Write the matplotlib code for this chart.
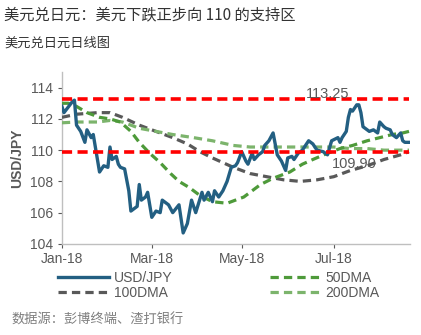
import numpy as np
import matplotlib
import matplotlib.pyplot as plt

matplotlib.use('Agg')

plt.rcParams['font.family'] = ['Liberation Sans', 'Noto Sans CJK SC', 'DejaVu Sans']

# daily USD/JPY close (turning points)
usdjpy_dates = [
    '2018-01-01', '2018-01-02', '2018-01-08', '2018-01-09', '2018-01-10', '2018-01-12',
    '2018-01-16', '2018-01-17', '2018-01-19', '2018-01-22', '2018-01-23', '2018-01-24',
    '2018-01-25', '2018-01-29', '2018-01-31', '2018-02-01', '2018-02-02', '2018-02-06',
    '2018-02-07', '2018-02-08', '2018-02-12', '2018-02-14', '2018-02-15', '2018-02-20',
    '2018-02-21', '2018-02-22', '2018-02-26', '2018-02-27', '2018-03-01', '2018-03-05',
    '2018-03-07', '2018-03-08', '2018-03-13', '2018-03-15', '2018-03-20', '2018-03-22',
    '2018-03-26', '2018-03-28', '2018-03-30', '2018-04-04', '2018-04-05', '2018-04-09',
    '2018-04-11', '2018-04-12', '2018-04-16', '2018-04-18', '2018-04-20', '2018-04-24',
    '2018-04-26', '2018-04-27', '2018-05-01', '2018-05-03', '2018-05-04', '2018-05-08',
    '2018-05-09', '2018-05-11', '2018-05-15', '2018-05-16', '2018-05-18', '2018-05-22',
    '2018-05-24', '2018-05-28', '2018-05-30', '2018-05-31', '2018-06-04', '2018-06-05',
    '2018-06-07', '2018-06-11', '2018-06-14', '2018-06-18', '2018-06-20', '2018-06-25',
    '2018-06-27', '2018-06-29', '2018-07-04', '2018-07-05', '2018-07-06', '2018-07-10',
    '2018-07-11', '2018-07-12', '2018-07-13', '2018-07-17', '2018-07-18', '2018-07-19',
    '2018-07-20', '2018-07-24', '2018-07-25', '2018-07-27', '2018-07-31', '2018-08-01',
    '2018-08-03', '2018-08-06', '2018-08-08', '2018-08-09', '2018-08-13', '2018-08-15',
    '2018-08-16', '2018-08-17', '2018-08-21',
]
usdjpy = [
    112.8, 112.4, 113.1, 113.2, 111.6, 111.2,
    110.5, 111.3, 110.8, 111.0, 110.2, 109.4,
    108.6, 109.0, 108.9, 110.2, 109.4, 109.6,
    109.1, 108.9, 108.8, 107.4, 106.1, 106.4,
    107.8, 106.8, 107.0, 107.3, 105.7, 106.1,
    106.0, 106.8, 106.5, 106.0, 106.5, 104.7,
    105.3, 106.8, 106.0, 107.3, 106.8, 107.3,
    106.7, 107.4, 107.0, 107.4, 108.0, 108.9,
    109.0, 109.2, 109.9, 109.3, 109.1, 109.8,
    109.4, 109.7, 109.9, 110.3, 110.6, 111.1,
    109.7, 109.3, 108.7, 109.5, 109.6, 109.4,
    109.8, 110.0, 110.6, 110.4, 110.0, 109.9,
    109.7, 110.6, 110.8, 110.5, 110.8, 111.2,
    112.1, 112.6, 112.5, 112.9, 112.9, 112.4,
    111.5, 111.3, 111.2, 111.3, 111.1, 111.8,
    111.5, 111.4, 111.3, 111.0, 110.8, 111.1,
    110.6, 110.5, 110.5,
]

dma50_dates = [
    '2018-01-01', '2018-01-04', '2018-01-10', '2018-01-17', '2018-01-25', '2018-02-01',
    '2018-02-08', '2018-02-15', '2018-02-21', '2018-02-28', '2018-03-07', '2018-03-14',
    '2018-03-20', '2018-03-27', '2018-04-03', '2018-04-11', '2018-04-20', '2018-05-02',
    '2018-05-14', '2018-05-22', '2018-06-01', '2018-06-11', '2018-06-18', '2018-06-27',
    '2018-07-05', '2018-07-13', '2018-07-24', '2018-08-01', '2018-08-09', '2018-08-16',
    '2018-08-21',
]
dma50 = [
    113.0, 113.0, 112.8, 112.4, 112.1, 112.0,
    111.8, 111.2, 110.5, 109.8, 109.2, 108.5,
    108.0, 107.6, 107.1, 106.7, 106.6, 107.0,
    107.8, 108.2, 108.6, 109.1, 109.4, 109.8,
    110.1, 110.3, 110.6, 110.8, 111.0, 111.1,
    111.2,
]

dma100_dates = [
    '2018-01-01', '2018-01-10', '2018-01-24', '2018-02-01', '2018-02-09', '2018-02-21',
    '2018-03-05', '2018-03-15', '2018-03-26', '2018-04-03', '2018-04-11', '2018-04-25',
    '2018-05-07', '2018-05-17', '2018-05-29', '2018-06-08', '2018-06-20', '2018-07-02',
    '2018-07-12', '2018-07-24', '2018-08-03', '2018-08-15', '2018-08-21',
]
dma100 = [
    112.1, 112.3, 112.4, 112.4, 112.1, 111.6,
    111.2, 110.8, 110.4, 109.9, 109.5, 108.9,
    108.5, 108.3, 108.1, 108.0, 108.1, 108.3,
    108.7, 109.0, 109.4, 109.7, 109.9,
]

dma200_dates = [
    '2018-01-01', '2018-01-10', '2018-01-24', '2018-02-01', '2018-02-09', '2018-02-21',
    '2018-03-05', '2018-03-15', '2018-03-29', '2018-04-11', '2018-04-25', '2018-05-07',
    '2018-05-17', '2018-06-08', '2018-07-02', '2018-07-12', '2018-07-24', '2018-08-03',
    '2018-08-21',
]
dma200 = [
    111.75, 111.8, 111.8, 111.9, 111.8, 111.4,
    111.2, 111.0, 110.8, 110.6, 110.3, 110.2,
    110.2, 110.2, 110.2, 110.1, 110.1, 110.0,
    110.0,
]

resistance = 113.25
support = 109.90
tick_months = ['2018-01-01', '2018-03-01', '2018-05-01', '2018-07-01']
tick_labels = ['Jan-18', 'Mar-18', 'May-18', 'Jul-18']

START = '2018-01-01'


def bday_pos(dates):
    # position on a trading-day axis (weekends removed)
    d = np.array(dates, dtype='datetime64[D]')
    d = np.busday_offset(d, 0, roll='forward')
    return np.busday_count(START, d)


GREY = '#595959'

fig = plt.figure(figsize=(4.21, 3.35), dpi=100)
ax = fig.add_axes([0.147, 0.272, 0.827, 0.513])

x_end = bday_pos([usdjpy_dates[-1]])[0]

ax.plot(bday_pos(usdjpy_dates), usdjpy, color='#235f82', lw=2.4, zorder=5,
        label='USD/JPY', solid_joinstyle='round')
ax.plot(bday_pos(dma100_dates), dma100, color=GREY, lw=2.3, ls=(0, (2.6, 1.6)),
        label='100DMA', zorder=3)
ax.plot(bday_pos(dma50_dates), dma50, color='#4e9a3a', lw=2.3, ls=(0, (2.6, 1.6)),
        label='50DMA', zorder=4)
ax.plot(bday_pos(dma200_dates), dma200, color='#7cb46c', lw=2.3, ls=(0, (2.6, 1.6)),
        label='200DMA', zorder=3)

for level in (resistance, support):
    ax.plot([0, x_end], [level, level], color='#ff0000', lw=2.6,
            ls=(0, (2.8, 1.5)), zorder=6)

ax.text(127, 113.62, f'{resistance:.2f}', color=GREY, fontsize=10.5,
        ha='center', va='center', zorder=7)
ax.text(140, 109.13, f'{support:.2f}', color=GREY, fontsize=10.5,
        ha='center', va='center', zorder=7)

ax.set_xlim(0, x_end + 0.5)
ax.set_ylim(104, 115)
ax.set_yticks(np.arange(104, 115, 2))
ax.set_xticks(bday_pos(tick_months))
ax.set_xticklabels(tick_labels)
ax.tick_params(colors=GREY, labelsize=10, length=3, width=0.8)
ax.tick_params(axis='x', pad=3)
for s in ('top', 'right'):
    ax.spines[s].set_visible(False)
for s in ('left', 'bottom'):
    ax.spines[s].set_color('#bfbfbf')
    ax.spines[s].set_linewidth(1.0)
ax.set_ylabel('USD/JPY', color=GREY, fontsize=10, fontweight='bold', labelpad=4)

handles, labels = ax.get_legend_handles_labels()
leg = fig.legend(handles, labels,
                 ncol=2, loc='upper left', bbox_to_anchor=(0.138, 0.19),
                 frameon=False, fontsize=10, handlelength=3.7, handletextpad=0.3,
                 columnspacing=7.0, labelspacing=0.05, borderaxespad=0,
                 borderpad=0)
for t in leg.get_texts():
    t.set_color(GREY)

fig.text(0.01, 0.955, '美元兑日元：美元下跌正步向 110 的支持区',
         family=['Noto Sans CJK SC', 'DejaVu Sans'], fontsize=11, color='#333333',
         va='center')
fig.text(0.01, 0.872, '美元兑日元日线图', family=['Noto Sans CJK SC', 'DejaVu Sans'],
         fontsize=9.5, color='#333333', va='center')
fig.text(0.028, 0.045, '数据源：彭博终端、渣打银行',
         family=['Noto Sans CJK SC', 'DejaVu Sans'], fontsize=9.5, color='#7f7f7f',
         va='center')

fig.savefig('out.png', dpi=100, facecolor='white')
